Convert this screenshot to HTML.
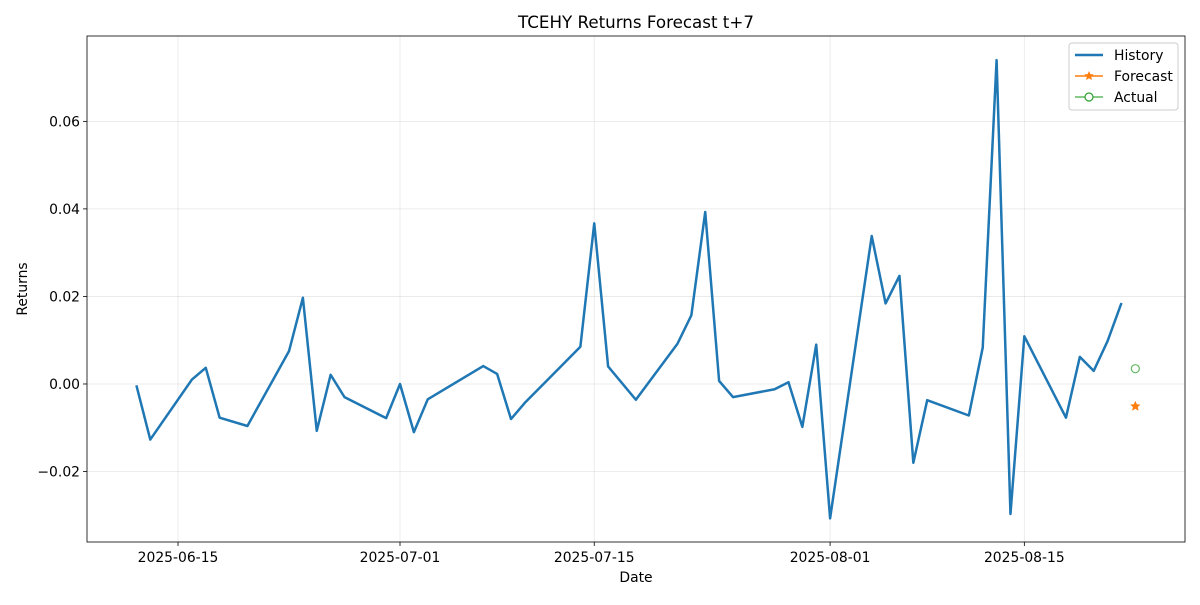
<!DOCTYPE html>
<html><head><meta charset="utf-8"><style>
html,body{margin:0;padding:0;background:#fff;}
svg text{font-family:"DejaVu Sans","Liberation Sans",sans-serif;}
</style></head><body>
<svg id="chart" width="1200" height="600" xmlns="http://www.w3.org/2000/svg"></svg>
<script>
const historyDates=["2025-06-12","2025-06-13","2025-06-16","2025-06-17","2025-06-18","2025-06-20","2025-06-23","2025-06-24","2025-06-25","2025-06-26","2025-06-27","2025-06-30","2025-07-01","2025-07-02","2025-07-03","2025-07-07","2025-07-08","2025-07-09","2025-07-10","2025-07-14","2025-07-15","2025-07-16","2025-07-18","2025-07-21","2025-07-22","2025-07-23","2025-07-24","2025-07-25","2025-07-28","2025-07-29","2025-07-30","2025-07-31","2025-08-01","2025-08-04","2025-08-05","2025-08-06","2025-08-07","2025-08-08","2025-08-11","2025-08-12","2025-08-13","2025-08-14","2025-08-15","2025-08-18","2025-08-19","2025-08-20","2025-08-21","2025-08-22"];
const historyValues=[-0.0003,-0.0127,0.001,0.0037,-0.0077,-0.0096,0.0075,0.0197,-0.0107,0.0021,-0.003,-0.0078,0.0000,-0.011,-0.0035,0.0041,0.0023,-0.008,-0.0043,0.0085,0.0367,0.004,-0.0036,0.0092,0.0157,0.0393,0.0007,-0.003,-0.0012,0.0004,-0.0098,0.009,-0.0307,0.0338,0.0184,0.0247,-0.018,-0.0037,-0.0072,0.0083,0.074,-0.0297,0.0109,-0.0077,0.0062,0.003,0.0098,0.0185];
const forecastDates=["2025-08-23"];
const forecastValues=[-0.0051];
const actualDates=["2025-08-23"];
const actualValues=[0.0035];
const yTicks=[-0.02,0.00,0.02,0.04,0.06];
const xTickDates=["2025-06-15","2025-07-01","2025-07-15","2025-08-01","2025-08-15"];

const L=87,R=1185,T=36,B=542;
const base=Date.UTC(2025,5,15);
function day(s){const p=s.split('-');return (Date.UTC(+p[0],+p[1]-1,+p[2])-base)/86400000;}
const xMin=-6.56,xMax=72.58,yMin=-0.0361,yMax=0.0795;
function X(s){return L+(day(s)-xMin)/(xMax-xMin)*(R-L);}
function Y(v){return B-(v-yMin)/(yMax-yMin)*(B-T);}
const svg=document.getElementById('chart');
const NS="http://www.w3.org/2000/svg";
function el(tag,attrs,parent){const e=document.createElementNS(NS,tag);for(const k in attrs)e.setAttribute(k,attrs[k]);(parent||svg).appendChild(e);return e;}

const title=el('text',{x:(L+R)/2,y:28,'text-anchor':'middle','font-size':16.7});
title.textContent="TCEHY Returns Forecast t+7";



const grid=el('g',{});


yTicks.forEach(v=>{
  const y=Y(v);
  el('line',{x1:L,x2:R,y1:y,y2:y,stroke:'#b0b0b0','stroke-width':0.8,'stroke-opacity':0.3},grid);
  el('line',{x1:L-4,x2:L,y1:y,y2:y,stroke:'#000','stroke-width':0.8});
  const t=el('text',{x:L-7,y:y+5,'text-anchor':'end','font-size':13.9});
  t.textContent=v.toFixed(2).replace('-','\u2212');
  
  
});
xTickDates.forEach(d=>{
  const x=X(d);
  el('line',{x1:x,x2:x,y1:T,y2:B,stroke:'#b0b0b0','stroke-width':0.8,'stroke-opacity':0.3},grid);
  el('line',{x1:x,x2:x,y1:B,y2:B+4,stroke:'#000','stroke-width':0.8});
  const t=el('text',{x:x,y:B+20,'text-anchor':'middle','font-size':13.9});
  t.textContent=d;
  
  
});

const hist=el('polyline',{points:historyDates.map((d,i)=>X(d)+','+Y(historyValues[i])).join(' '),fill:'none',stroke:'#1f77b4','stroke-width':2.5,'stroke-linejoin':'round'});



function star(cx,cy,r,color,parent){
  let pts=[];for(let i=0;i<10;i++){const a=-Math.PI/2+i*Math.PI/5;const rr=i%2?r*0.45:r;pts.push((cx+rr*Math.cos(a))+','+(cy+rr*Math.sin(a)));}
  return el('polygon',{points:pts.join(' '),fill:color,stroke:color,'stroke-width':0.5},parent);
}
forecastDates.forEach((d,i)=>{
  const s=star(X(d),Y(forecastValues[i]),5,'#ff7f0e');
  
  
});
actualDates.forEach((d,i)=>{
  const c=el('circle',{cx:X(d),cy:Y(actualValues[i]),r:4,fill:'none',stroke:'#2ca02c','stroke-opacity':0.75,'stroke-width':1.2});
  
  
});

const frame=el('rect',{x:L,y:T,width:R-L,height:B-T,fill:'none',stroke:'#000','stroke-width':0.8});



const xl=el('text',{x:(L+R)/2,y:582,'text-anchor':'middle','font-size':13.9});
xl.textContent="Date";


const yl=el('text',{x:0,y:0,'text-anchor':'middle','font-size':13.9,transform:'translate(27,'+((T+B)/2)+') rotate(-90)'});
yl.textContent="Returns";



const lg=el('g',{});


el('rect',{x:1069,y:43,width:109,height:67,rx:3,fill:'#fff','fill-opacity':0.8,stroke:'#ccc','stroke-width':1},lg);
const entries=[['History','#1f77b4','none'],['Forecast','#ff7f0e','star'],['Actual','#2ca02c','circle']];
entries.forEach((e,i)=>{
  const y=55+i*21;
  const g=el('g',{},lg);
  
  
  el('line',{x1:1075,x2:1103,y1:y,y2:y,stroke:e[1],'stroke-width':i==0?2.5:1.5,'stroke-opacity':i==2?0.75:1},g);
  if(e[2]=='star')star(1089,y,4.5,e[1],g);
  if(e[2]=='circle')el('circle',{cx:1089,cy:y,r:4,fill:'#fff',stroke:e[1],'stroke-width':1.2},g);
  const t=el('text',{x:1114,y:y+5,'font-size':13.9},g);
  t.textContent=e[0];
});
</script>
</body></html>
